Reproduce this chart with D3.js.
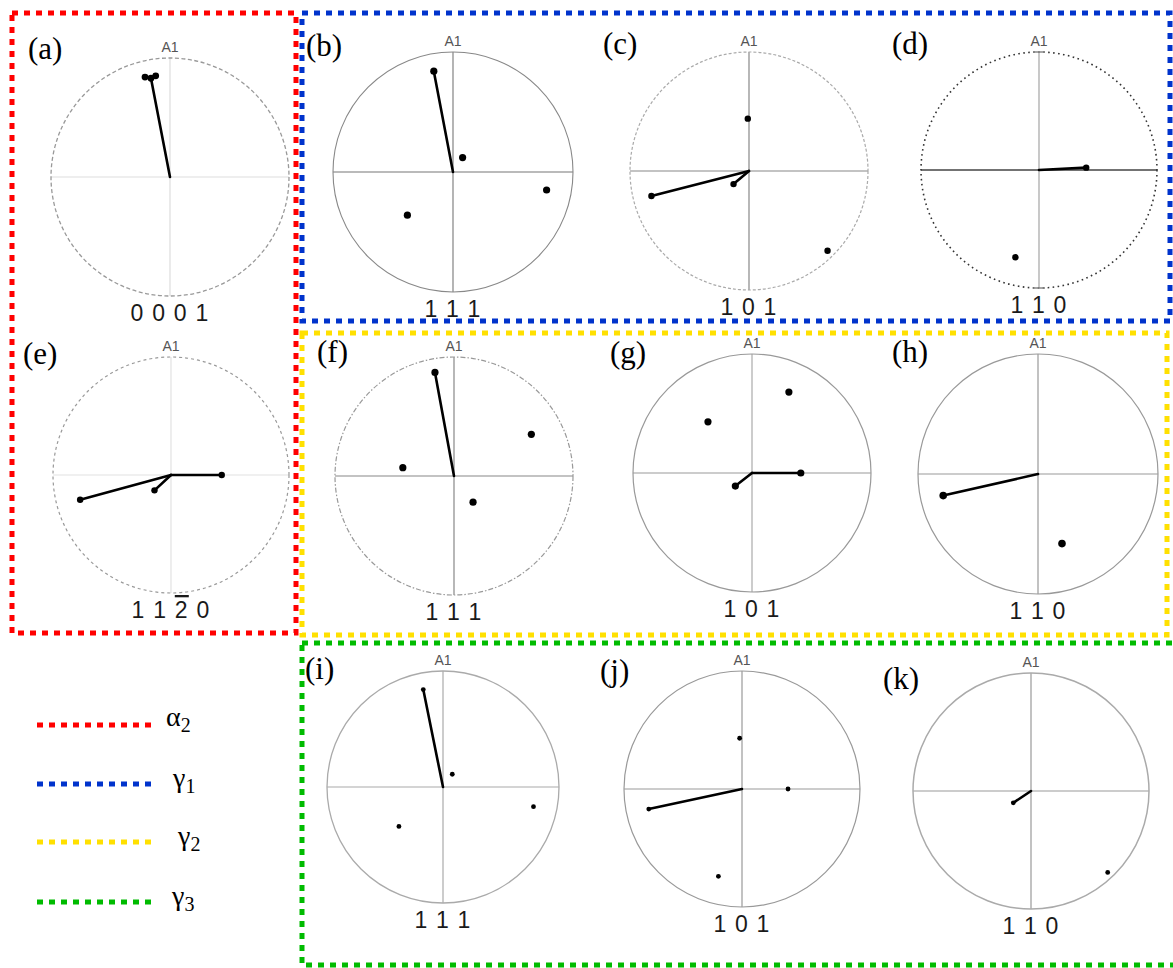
<!DOCTYPE html>
<html>
<head>
<meta charset="utf-8">
<script src="https://cdn.jsdelivr.net/npm/d3@7"></script>
<style>
  body { margin: 0; background: #fff; }
  svg { display: block; }
  .serif { font-family: "Liberation Serif", "Times New Roman", "DejaVu Serif", serif; }
  .sans { font-family: "Liberation Sans", Arial, "DejaVu Sans", sans-serif; }
</style>
</head>
<body>
<svg id="fig" width="1173" height="968"></svg>
<script>
// ---------- data ----------
// panel tags
const panelTags = ["(a)", "(b)", "(c)", "(d)", "(e)", "(f)", "(g)", "(h)", "(i)", "(j)", "(k)"];
// projection direction of each pole figure (negative index = overbar)
const zoneIndices = [
  [0, 0, 0, 1], [1, 1, 1], [1, 0, 1], [1, 1, 0],
  [1, 1, -2, 0], [1, 1, 1], [1, 0, 1], [1, 1, 0],
  [1, 1, 1], [1, 0, 1], [1, 1, 0]
];
// reference direction printed above each figure
const referenceLabel = "A1";
// phase of each panel (index into the phase lists)
const panelPhase = [0, 1, 1, 1, 0, 2, 2, 2, 3, 3, 3];
const phaseSymbols = ["α", "γ", "γ", "γ"];
const phaseSubscripts = ["2", "1", "2", "3"];
// pole positions on the unit projection circle, [x, y] with y pointing up
const poleSets = [
  [[-0.16, 0.83], [-0.21, 0.84], [-0.12, 0.85]],
  [[-0.16, 0.84], [0.08, 0.12], [0.78, -0.15], [-0.38, -0.36]],
  [[-0.82, -0.21], [-0.13, -0.11], [-0.01, 0.44], [0.66, -0.67]],
  [[0.40, 0.02], [-0.20, -0.74]],
  [[0.43, 0.0], [-0.77, -0.21], [-0.14, -0.13]],
  [[-0.16, 0.87], [0.65, 0.35], [-0.43, 0.07], [0.16, -0.22]],
  [[0.41, 0.0], [-0.14, -0.11], [0.31, 0.68], [-0.37, 0.43]],
  [[-0.79, -0.18], [0.20, -0.58]],
  [[-0.17, 0.84], [0.08, 0.11], [0.78, -0.17], [-0.38, -0.34]],
  [[-0.79, -0.17], [-0.02, 0.43], [0.39, 0.0], [-0.20, -0.74]],
  [[-0.15, -0.10], [0.65, -0.69]]
];
// how many of the leading poles of each set are joined to the centre
const linkedCount = [1, 1, 2, 1, 3, 1, 2, 1, 1, 1, 1];

// ---------- layout & styles ----------
const layout = [
  { cx: 170,  cy: 177, r: 119, tx: 28,  ty: 59 },
  { cx: 453,  cy: 172, r: 120, tx: 306, ty: 56 },
  { cx: 749,  cy: 171, r: 119, tx: 603, ty: 54 },
  { cx: 1039, cy: 170, r: 118, tx: 892, ty: 54 },
  { cx: 171,  cy: 475, r: 118, tx: 23,  ty: 364 },
  { cx: 454,  cy: 476, r: 119, tx: 317, ty: 362 },
  { cx: 752,  cy: 473, r: 119, tx: 610, ty: 363 },
  { cx: 1038, cy: 474, r: 120, tx: 892, ty: 362 },
  { cx: 443,  cy: 787, r: 116, tx: 305, ty: 679 },
  { cx: 742,  cy: 789, r: 118, tx: 600, ty: 681 },
  { cx: 1031, cy: 791, r: 118, tx: 883, ty: 689 }
];
const circleStyle = [
  { c: "#999", w: 1.3, d: "4 2.5" },
  { c: "#888", w: 1.1, d: null },
  { c: "#aaa", w: 1.2, d: "3 2" },
  { c: "#333", w: 1.6, d: "1.6 3.4" },
  { c: "#999", w: 1.2, d: "3 3" },
  { c: "#999", w: 1.2, d: "5 2 1.5 2" },
  { c: "#999", w: 1.2, d: null },
  { c: "#999", w: 1.2, d: null },
  { c: "#aaa", w: 1.3, d: null },
  { c: "#999", w: 1.2, d: null },
  { c: "#aaa", w: 1.5, d: null }
];
const axisStyle = [
  { h: "#ddd", v: "#ddd", w: 1.2 },
  { h: "#777", v: "#777", w: 1.1 },
  { h: "#888", v: "#888", w: 1.2 },
  { h: "#444", v: "#bbb", w: 1.6 },
  { h: "#e2e2e2", v: "#e2e2e2", w: 1.2 },
  { h: "#888", v: "#888", w: 1.2 },
  { h: "#bbb", v: "#bbb", w: 1.5 },
  { h: "#999", v: "#999", w: 1.2 },
  { h: "#aaa", v: "#aaa", w: 1.2 },
  { h: "#999", v: "#999", w: 1.2 },
  { h: "#999", v: "#999", w: 1.2 }
];
const dotRadius = [3.4, 3.6, 3.2, 3.2, 3.2, 3.6, 3.6, 3.8, 2.4, 2.4, 2.4];
const phaseColors = ["#ff0000", "#0033cc", "#ffe000", "#00bb00"];

const svg = d3.select("#fig");

// ---------- phase frames ----------
const frames = [
  { p: 0, x0: 12,  y0: 13,  x1: 296,  y1: 633 },
  { p: 1, x0: 302, y0: 13,  x1: 1170, y1: 321 },
  { p: 2, x0: 302, y0: 333, x1: 1167, y1: 635 },
  { p: 3, x0: 302, y0: 643, x1: 1190, y1: 965 }
];
svg.append("g").selectAll("rect").data(frames).join("rect")
  .attr("x", d => d.x0).attr("y", d => d.y0)
  .attr("width", d => d.x1 - d.x0).attr("height", d => d.y1 - d.y0)
  .attr("fill", "none")
  .attr("stroke", d => phaseColors[d.p])
  .attr("stroke-width", 5)
  .attr("stroke-dasharray", "6 6");

// ---------- pole figures ----------
panelTags.forEach((tag, i) => {
  const L = layout[i];
  const x = d3.scaleLinear().domain([-1, 1]).range([L.cx - L.r, L.cx + L.r]);
  const y = d3.scaleLinear().domain([-1, 1]).range([L.cy + L.r, L.cy - L.r]);
  const g = svg.append("g").attr("class", "panel");
  const cs = circleStyle[i], as = axisStyle[i];

  // reference axes
  g.append("line").attr("x1", x(-1)).attr("x2", x(1)).attr("y1", y(0)).attr("y2", y(0))
    .attr("stroke", as.h).attr("stroke-width", as.w);
  g.append("line").attr("x1", x(0)).attr("x2", x(0)).attr("y1", y(1)).attr("y2", y(-1))
    .attr("stroke", as.v).attr("stroke-width", as.w);

  // primitive circle
  g.append("circle").attr("cx", x(0)).attr("cy", y(0)).attr("r", x(1) - x(0))
    .attr("fill", "none").attr("stroke", cs.c).attr("stroke-width", cs.w)
    .attr("stroke-dasharray", cs.d);

  // short end ticks on the vertical axis of (d)
  if (i === 3) {
    [1, -1].forEach(v => g.append("line")
      .attr("x1", x(0) - 6).attr("x2", x(0) + 6).attr("y1", y(v)).attr("y2", y(v))
      .attr("stroke", "#888").attr("stroke-width", 1.5));
  }

  const poles = poleSets[i];
  // vectors from the centre to the linked poles
  g.selectAll("line.vec").data(poles.slice(0, linkedCount[i])).join("line")
    .attr("class", "vec")
    .attr("x1", x(0)).attr("y1", y(0))
    .attr("x2", d => x(d[0])).attr("y2", d => y(d[1]))
    .attr("stroke", "#000").attr("stroke-width", 2.6).attr("stroke-linecap", "round");

  // poles
  g.selectAll("circle.pole").data(poles).join("circle")
    .attr("class", "pole")
    .attr("cx", d => x(d[0])).attr("cy", d => y(d[1]))
    .attr("r", dotRadius[i]).attr("fill", "#000");

  // reference label
  g.append("text").attr("class", "sans").attr("x", x(0)).attr("y", y(1) - 6)
    .attr("text-anchor", "middle")
    .attr("font-size", 14).attr("fill", "#555")
    .text(referenceLabel);

  // projection direction label
  const dir = g.append("text").attr("class", "sans").attr("x", x(0)).attr("y", y(-1) + 25)
    .attr("text-anchor", "middle")
    .attr("font-size", 23).attr("letter-spacing", 1.2).attr("fill", "#1a1a1a");
  zoneIndices[i].forEach((v, k) => {
    if (k > 0) dir.append("tspan").text(" ");
    const t = dir.append("tspan").text(Math.abs(v));
    if (v < 0) t.attr("text-decoration", "overline");
  });

  // panel tag
  g.append("text").attr("class", "serif").attr("x", L.tx).attr("y", L.ty)
    .attr("font-size", 31).attr("fill", "#000")
    .text(tag);
});

// ---------- legend ----------
const legendY = [725, 784, 842, 902];
const legendTextX = [166, 173, 178, 172];
const lg = svg.append("g").attr("class", "legend");
phaseSymbols.forEach((s, k) => {
  lg.append("line")
    .attr("x1", 37).attr("x2", 155)
    .attr("y1", legendY[k]).attr("y2", legendY[k])
    .attr("stroke", phaseColors[k]).attr("stroke-width", 5)
    .attr("stroke-dasharray", "6 6");
  const t = lg.append("text").attr("class", "serif")
    .attr("x", legendTextX[k]).attr("y", legendY[k] + (k === 0 ? 1 : 3))
    .attr("font-size", 28).attr("fill", "#000");
  t.append("tspan").text(s);
  t.append("tspan").attr("dy", 6).attr("font-size", 20).text(phaseSubscripts[k]);
});
</script>
</body>
</html>
